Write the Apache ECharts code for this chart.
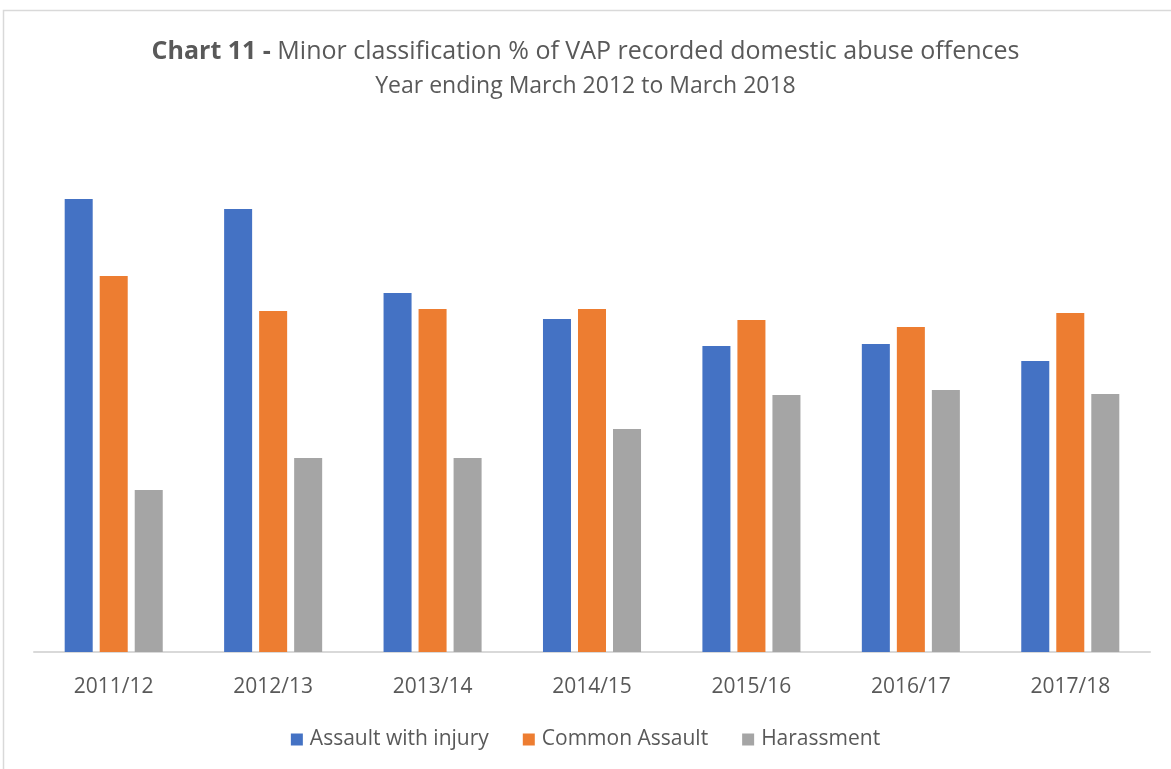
<!DOCTYPE html>
<html>
<head>
<meta charset="utf-8">
<script src="https://cdn.jsdelivr.net/npm/echarts@6/dist/echarts.min.js"></script>
<style>
  html, body { margin: 0; padding: 0; background: #fff; }
  #chart { width: 1171px; height: 769px; }
</style>
</head>
<body>
<div id="chart"></div>
<script>
// values (axis hidden in the original, scale 0-50)
var years = ['2011/12', '2012/13', '2013/14', '2014/15', '2015/16', '2016/17', '2017/18'];
var assaultInjury = [45.3, 44.3, 35.9, 33.3, 30.6, 30.8, 29.1];
var commonAssault = [37.6, 34.1, 34.3, 34.3, 33.2, 32.5, 33.9];
var harassment = [16.2, 19.4, 19.4, 22.3, 25.7, 26.2, 25.8];

var textColor = '#595959';
var fontName = '"Open Sans", "Noto Sans", sans-serif';

var chart = echarts.init(document.getElementById('chart'));

var option = {
    animation: false,
    textStyle: { fontFamily: fontName },
    title: {
        text: '{b|Chart 11 -} Minor classification % of VAP recorded domestic abuse offences',
        subtext: 'Year ending March 2012 to March 2018',
        left: 'center',
        top: 34,
        itemGap: 11,
        textStyle: {
            color: textColor,
            fontSize: 25,
            fontWeight: 'normal',
            rich: { b: { fontWeight: 'bold', fontSize: 25, color: textColor } }
        },
        subtextStyle: { color: textColor, fontSize: 23 }
    },
    graphic: [{
        type: 'rect',
        silent: true,
        shape: { x: 3.5, y: 10.5, width: 1200, height: 800 },
        style: { fill: 'none', stroke: '#d9d9d9', lineWidth: 1.5 }
    }],
    legend: {
        bottom: 14,
        left: 'center',
        itemWidth: 12,
        itemHeight: 12,
        itemGap: 34,
        icon: 'rect',
        textStyle: { color: textColor, fontSize: 21, padding: [0, 0, 0, 2] },
        data: ['Assault with injury', 'Common Assault', 'Harassment']
    },
    grid: { left: 34, right: 21, top: 152, bottom: 117 },
    xAxis: {
        type: 'category',
        data: years,
        axisLine: { lineStyle: { color: '#d9d9d9', width: 2 } },
        axisTick: { show: false },
        axisLabel: { color: textColor, fontSize: 21, margin: 25 }
    },
    yAxis: {
        type: 'value',
        min: 0,
        max: 50,
        show: false
    },
    series: [
        { name: 'Assault with injury', type: 'bar', data: assaultInjury, itemStyle: { color: '#4472c4' }, barGap: '25%', barCategoryGap: '38.5%' },
        { name: 'Common Assault', type: 'bar', data: commonAssault, itemStyle: { color: '#ed7d31' } },
        { name: 'Harassment', type: 'bar', data: harassment, itemStyle: { color: '#a5a5a5' } }
    ]
};

chart.setOption(option);
</script>
</body>
</html>
